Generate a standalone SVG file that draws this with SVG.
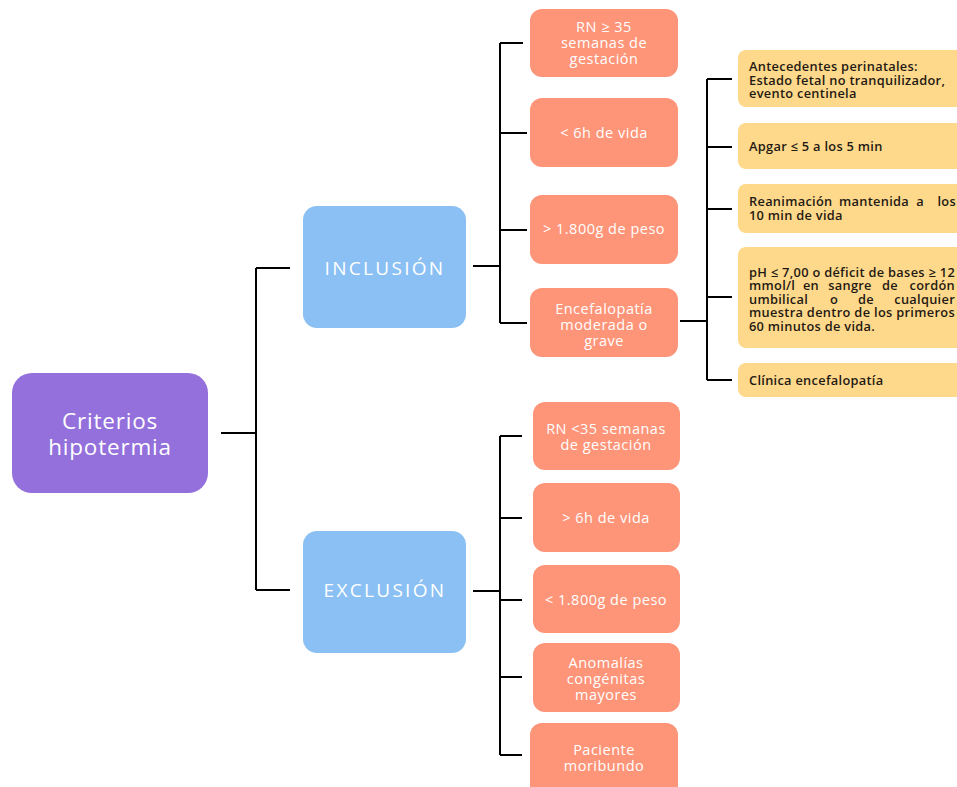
<svg xmlns="http://www.w3.org/2000/svg" width="957" height="787" viewBox="0 0 957 787">
<style>
.root{fill:#9370DB}
.blue{fill:#8AC0F3}
.orange{fill:#FE9478}
.yellow{fill:#FFD98B}
.wt{fill:#ffffff;font-family:"Open Sans","Noto Sans",sans-serif;text-anchor:middle}
.ot{font-size:14.5px;letter-spacing:0.5px}
.yt{fill:#1f1a14;font-family:"Open Sans","Noto Sans",sans-serif;font-size:12.8px;font-weight:600;letter-spacing:0.3px}
.c{fill:none;stroke:#000;stroke-width:2}
</style>
<rect width="957" height="787" fill="#ffffff"/>
<g id="connectors">
<path class="c" d="M221 433H256M256 268V590M256 268H290M256 590H290"/>
<path class="c" d="M473 266H500M500 43V323M500 43H523M500 133H527M500 230H527M500 323H527"/>
<path class="c" d="M680 321H707M707 79V380M707 79H732M707 147H732M707 209H732M707 297H732M707 380H732"/>
<path class="c" d="M473 591H500M500 436V755M500 436H522M500 518H522M500 600H522M500 677H522M500 755H522"/>
</g>
<g id="root">
<rect class="root" x="12" y="373" width="196" height="120" rx="20"/>
<text class="wt" x="110" y="429" font-size="22.5" letter-spacing="0.8">Criterios</text>
<text class="wt" x="110" y="455" font-size="22.5" letter-spacing="0.8">hipotermia</text>
</g>
<g id="inclusion">
<rect class="blue" x="303" y="206" width="163" height="122" rx="14"/>
<text class="wt" x="385" y="275" font-size="19" letter-spacing="2.3">INCLUSIÓN</text>
</g>
<g id="exclusion">
<rect class="blue" x="303" y="531" width="163" height="122" rx="14"/>
<text class="wt" x="385" y="597" font-size="19" letter-spacing="2.3">EXCLUSIÓN</text>
</g>
<g id="inc1">
<rect class="orange" x="530" y="9" width="148" height="68" rx="12"/>
<text class="wt ot" x="604" y="32">RN ≥ 35</text>
<text class="wt ot" x="604" y="48">semanas de</text>
<text class="wt ot" x="604" y="64">gestación</text>
</g>
<g id="inc2">
<rect class="orange" x="530" y="98" width="148" height="69" rx="12"/>
<text class="wt ot" x="604" y="138">&lt; 6h de vida</text>
</g>
<g id="inc3">
<rect class="orange" x="530" y="195" width="148" height="69" rx="12"/>
<text class="wt ot" x="604" y="234">&gt; 1.800g de peso</text>
</g>
<g id="inc4">
<rect class="orange" x="530" y="288" width="148" height="69" rx="12"/>
<text class="wt ot" x="604" y="314">Encefalopatía</text>
<text class="wt ot" x="604" y="330">moderada o</text>
<text class="wt ot" x="604" y="346">grave</text>
</g>
<g id="y1">
<rect class="yellow" x="738" y="50" width="230" height="57" rx="8"/>
<text class="yt" x="749" y="71">Antecedentes perinatales:</text>
<text class="yt" x="749" y="85">Estado fetal no tranquilizador,</text>
<text class="yt" x="749" y="98">evento centinela</text>
</g>
<g id="y2">
<rect class="yellow" x="738" y="123" width="230" height="46" rx="8"/>
<text class="yt" x="749" y="151">Apgar ≤ 5 a los 5 min</text>
</g>
<g id="y3">
<rect class="yellow" x="738" y="184" width="230" height="49" rx="8"/>
<text class="yt" x="749" y="206">Reanimación</text>
<text class="yt" x="874" y="206" text-anchor="middle">mantenida</text>
<text class="yt" x="920" y="206" text-anchor="middle">a</text>
<text class="yt" x="956" y="206" text-anchor="end">los</text>
<text class="yt" x="749" y="220">10 min de vida</text>
</g>
<g id="y4">
<rect class="yellow" x="738" y="247" width="230" height="101" rx="8"/>
<text class="yt" x="749" y="277" textLength="206" lengthAdjust="spacing">pH ≤ 7,00 o déficit de bases ≥ 12</text>
<text class="yt" x="749" y="290">mmol/l</text>
<text class="yt" x="811" y="290" text-anchor="middle">en</text>
<text class="yt" x="850" y="290" text-anchor="middle">sangre</text>
<text class="yt" x="890" y="290" text-anchor="middle">de</text>
<text class="yt" x="955" y="290" text-anchor="end">cordón</text>
<text class="yt" x="749" y="304">umbilical</text>
<text class="yt" x="834" y="304" text-anchor="middle">o</text>
<text class="yt" x="866" y="304" text-anchor="middle">de</text>
<text class="yt" x="955" y="304" text-anchor="end">cualquier</text>
<text class="yt" x="749" y="317" textLength="206" lengthAdjust="spacing">muestra dentro de los primeros</text>
<text class="yt" x="749" y="331">60 minutos de vida.</text>
</g>
<g id="y5">
<rect class="yellow" x="738" y="363" width="230" height="34" rx="8"/>
<text class="yt" x="749" y="385">Clínica encefalopatía</text>
</g>
<g id="exc1">
<rect class="orange" x="533" y="402" width="147" height="68" rx="12"/>
<text class="wt ot" x="606" y="434">RN &lt;35 semanas</text>
<text class="wt ot" x="606" y="450">de gestación</text>
</g>
<g id="exc2">
<rect class="orange" x="533" y="483" width="147" height="69" rx="12"/>
<text class="wt ot" x="606" y="523">&gt; 6h de vida</text>
</g>
<g id="exc3">
<rect class="orange" x="533" y="565" width="147" height="68" rx="12"/>
<text class="wt ot" x="606" y="605">&lt; 1.800g de peso</text>
</g>
<g id="exc4">
<rect class="orange" x="533" y="643" width="147" height="69" rx="12"/>
<text class="wt ot" x="606" y="668">Anomalías</text>
<text class="wt ot" x="606" y="684">congénitas</text>
<text class="wt ot" x="606" y="700">mayores</text>
</g>
<g id="exc5">
<rect class="orange" x="530" y="723" width="148" height="80" rx="12"/>
<text class="wt ot" x="604" y="755">Paciente</text>
<text class="wt ot" x="604" y="771">moribundo</text>
</g>
</svg>
